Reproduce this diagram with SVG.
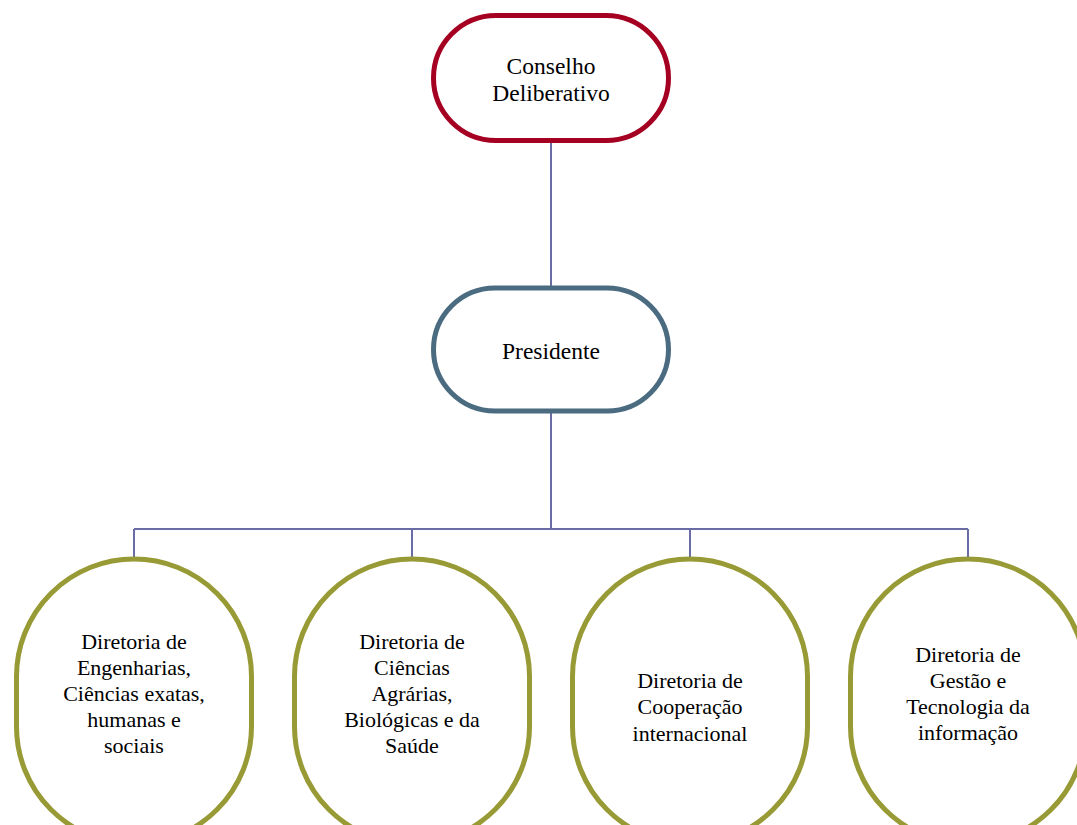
<svg xmlns="http://www.w3.org/2000/svg" width="1077" height="825" viewBox="0 0 1077 825">
<style>
text{font-family:'Liberation Serif','Times New Roman',Times,'DejaVu Serif',serif;font-size:22px;fill:#000;text-anchor:middle}
text.big{font-size:23.5px}
.top{fill:#fff;stroke:#A50021;stroke-width:5}
.pres{fill:#fff;stroke:#4A6B80;stroke-width:5}
.dir{fill:#fff;stroke:#989A35;stroke-width:5}
.con{fill:none;stroke:#6A6CA6;stroke-width:2}
</style>
<rect width="1077" height="825" fill="#fff"/>
<g id="connectors">
<path class="con" d="M551 142V287M551 412V529M134 529H968M134 529V557M412 529V557M690 529V557M968 529V557"/>
</g>
<g id="conselho">
<rect class="top" x="433.5" y="15.5" width="235" height="125" rx="62.5"/>
<text class="big" x="551" y="74">Conselho</text>
<text class="big" x="551" y="101">Deliberativo</text>
</g>
<g id="presidente">
<rect class="pres" x="433.5" y="288" width="235" height="123" rx="61.5"/>
<text class="big" x="551" y="359">Presidente</text>
</g>
<g id="dir1">
<rect class="dir" x="16.5" y="559" width="235" height="285" rx="117.5"/>
<text x="134" y="649">Diretoria de</text>
<text x="134" y="675">Engenharias,</text>
<text x="134" y="701">Ciências exatas,</text>
<text x="134" y="727">humanas e</text>
<text x="134" y="753">sociais</text>
</g>
<g id="dir2">
<rect class="dir" x="294.5" y="559" width="235" height="285" rx="117.5"/>
<text x="412" y="649">Diretoria de</text>
<text x="412" y="675">Ciências</text>
<text x="412" y="701">Agrárias,</text>
<text x="412" y="727">Biológicas e da</text>
<text x="412" y="753">Saúde</text>
</g>
<g id="dir3">
<rect class="dir" x="572.5" y="559" width="235" height="285" rx="117.5"/>
<text x="690" y="688">Diretoria de</text>
<text x="690" y="714">Cooperação</text>
<text x="690" y="741">internacional</text>
</g>
<g id="dir4">
<rect class="dir" x="850.5" y="559" width="235" height="285" rx="117.5"/>
<text x="968" y="662">Diretoria de</text>
<text x="968" y="688">Gestão e</text>
<text x="968" y="714">Tecnologia da</text>
<text x="968" y="740">informação</text>
</g>
</svg>
